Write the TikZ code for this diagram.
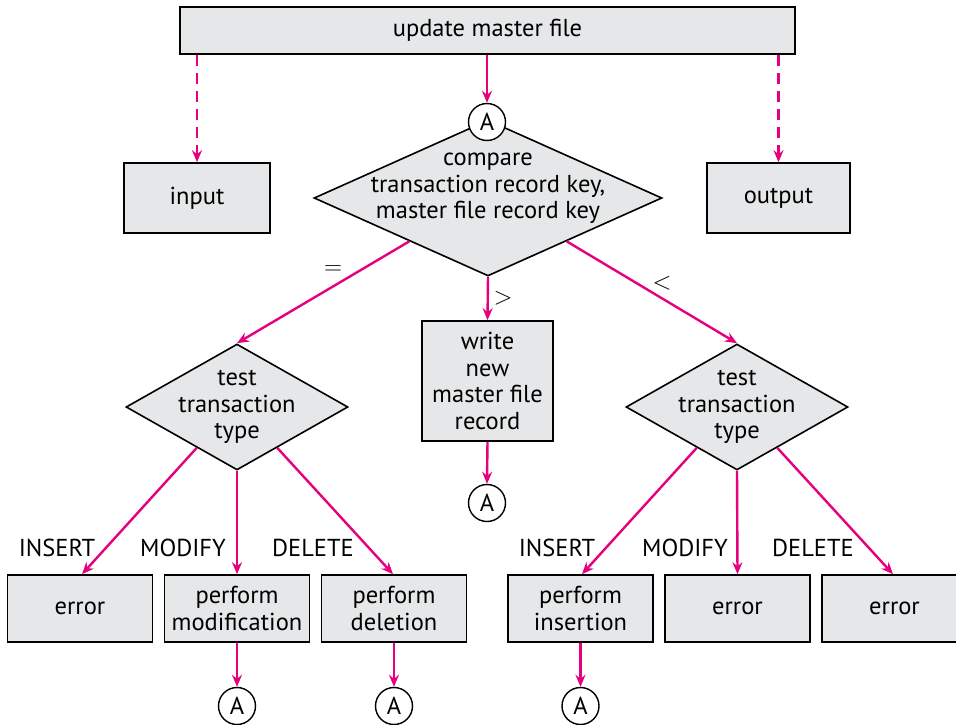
\documentclass[tikz,border=0pt]{standalone}
\usepackage{fontspec}
\setmainfont{PT Sans}
\usetikzlibrary{shapes.geometric,arrows.meta,calc}
\definecolor{mag}{RGB}{230,0,126}
\definecolor{boxgray}{RGB}{230,231,232}
\begin{document}
\begin{tikzpicture}[x=1pt,y=-1pt,
  font=\fontsize{24.5}{26.5}\selectfont,
  procbox/.style={draw=black,line width=1.6pt,fill=boxgray,inner sep=0pt,align=center},
  decbox/.style={diamond,draw=black,line width=1.6pt,fill=boxgray,inner sep=0pt},
  conn/.style={circle,draw=black,line width=1.4pt,fill=white,minimum size=37pt,inner sep=0pt},
  flow/.style={draw=mag,line width=2.4pt,-{Stealth[length=12pt,width=10pt,inset=4pt]}},
  dflow/.style={flow,dash pattern=on 11pt off 7pt},
  lbl/.style={inner sep=0pt}]
\useasboundingbox (0,0) rectangle (956,725);
% top
\node[procbox,minimum width=615pt,minimum height=47pt] (top) at (487.5,30.5) {update master file};
\node[procbox,minimum width=146pt,minimum height=70pt] (input) at (197,198) {input};
\node[procbox,minimum width=143pt,minimum height=70pt] (output) at (778.5,198) {output};
\node[decbox,minimum width=348pt,minimum height=156pt,label={[yshift=11pt]center:{\begin{tabular}{@{}c@{}}compare\\transaction record key,\\master file record key\end{tabular}}}] (cmp) at (488,198) {};
\node[conn] (a0) at (487,122) {A};
% middle
\node[procbox,minimum width=131pt,minimum height=120pt] (write) at (487.5,381) {write\\new\\master file\\record};
\node[conn] (a1) at (487,503) {A};
\node[decbox,minimum width=222pt,minimum height=126pt,label=center:{\begin{tabular}{@{}c@{}}test\\transaction\\type\end{tabular}}] (ld) at (237,407) {};
\node[decbox,minimum width=222pt,minimum height=126pt,label=center:{\begin{tabular}{@{}c@{}}test\\transaction\\type\end{tabular}}] (rd) at (737,407) {};
% bottom boxes
\node[procbox,minimum width=145pt,minimum height=67pt] (e1) at (80,608.5) {error};
\node[procbox,minimum width=145pt,minimum height=67pt] (pm) at (237,608.5) {perform\\modification};
\node[procbox,minimum width=145pt,minimum height=67pt] (pd) at (394,608.5) {perform\\deletion};
\node[procbox,minimum width=145pt,minimum height=67pt] (pi) at (580.5,608.5) {perform\\insertion};
\node[procbox,minimum width=145pt,minimum height=67pt] (e2) at (737.5,608.5) {error};
\node[procbox,minimum width=145pt,minimum height=67pt] (e3) at (894.5,608.5) {error};
\node[conn] (a2) at (237,706) {A};
\node[conn] (a3) at (394,706) {A};
\node[conn] (a4) at (580.5,706) {A};
% labels
\node[lbl] (leq) at (333,270) {$=$};
\node[lbl] (lgt) at (503,298) {$>$};
\node[lbl] (llt) at (662,283) {$<$};
\node[lbl] (li1) at (57,548) {INSERT};
\node[lbl] (lm1) at (183,548) {MODIFY};
\node[lbl] (ld1) at (313,548) {DELETE};
\node[lbl] (li2) at (557,548) {INSERT};
\node[lbl] (lm2) at (685,548) {MODIFY};
\node[lbl] (ld2) at (813,548) {DELETE};
% connectors
\coordinate (tl) at (top.south west -| input.north);
\coordinate (tr) at (top.south east -| output.north);
\draw[dflow] (tl) -- (input.north);
\draw[dflow] (tr) -- (output.north);
\draw[flow] (top.south -| a0.north) -- (a0.north);
\draw[flow] ($(cmp.west)!0.55!(cmp.south)$) -- (ld.north);
\draw[flow] ($(cmp.east)!0.55!(cmp.south)$) -- (rd.north);
\draw[flow] (cmp.south) -- (write.north);
\draw[flow] (write.south) -- (a1.north);
\draw[flow] ($(ld.west)!0.64!(ld.south)$) -- ($(e1.north)+(2,0)$);
\draw[flow] (ld.south) -- (pm.north);
\draw[flow] ($(ld.east)!0.64!(ld.south)$) -- ($(pd.north)-(1,0)$);
\draw[flow] ($(rd.west)!0.64!(rd.south)$) -- ($(pi.north)+(1.5,0)$);
\draw[flow] (rd.south) -- (e2.north);
\draw[flow] ($(rd.east)!0.64!(rd.south)$) -- ($(e3.north)-(1.5,0)$);
\draw[flow] (pm.south) -- (a2.north);
\draw[flow] (pd.south) -- (a3.north);
\draw[flow] (pi.south) -- (a4.north);
\end{tikzpicture}
\end{document}
